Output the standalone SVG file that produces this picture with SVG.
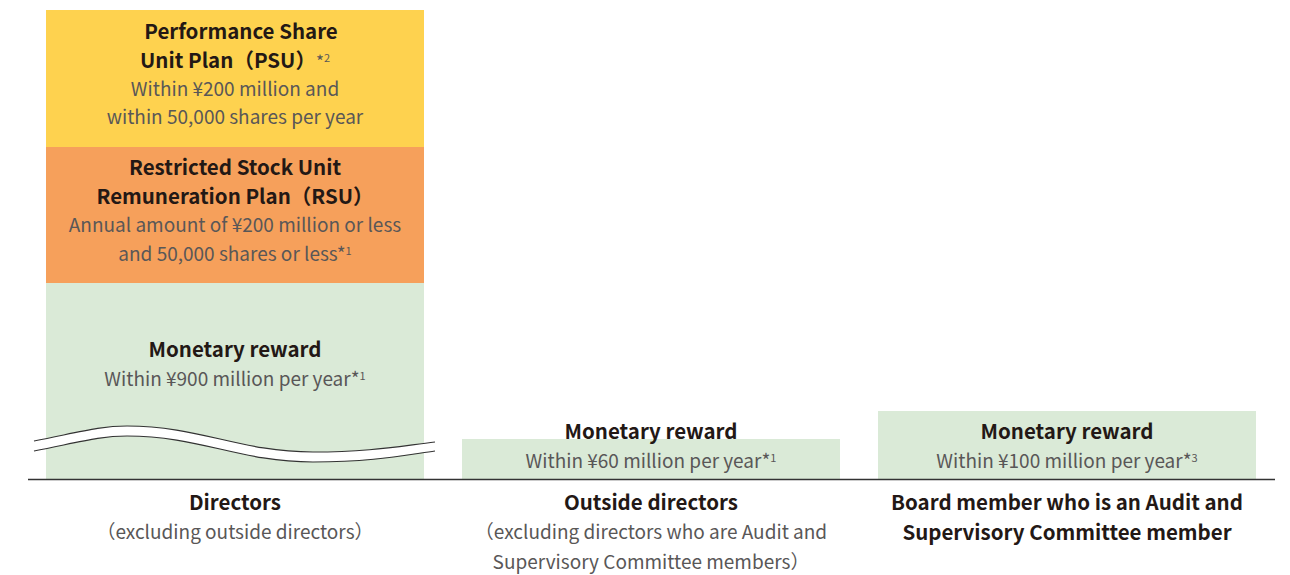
<svg xmlns="http://www.w3.org/2000/svg" width="1290" height="575" viewBox="0 0 1290 575">
<style>
text{font-family:"Noto Sans CJK JP","Noto Sans",sans-serif;text-anchor:middle}
.b{font-size:20.5px;font-weight:700;fill:#231815}
.n{font-size:19px;font-weight:400;fill:#595757}
.s{font-size:11px}
.g{fill:#DAEAD7}
.w{fill:none;stroke:#333;stroke-width:1.2}
</style>
<rect width="1290" height="575" fill="#fff"/>
<g id="directors">
<rect x="46" y="10" width="378" height="137" fill="#FED24F"/>
<rect x="46" y="147" width="378" height="136" fill="#F6A05B"/>
<rect class="g" x="46" y="283" width="378" height="196"/>
<path d="M34,441 C80,432 100,426 127,426 C200,426 240,452 313,452 C370,452 400,446 435,442 L435,451 C400,455 370,462 313,462 C240,462 200,436 127,436 C100,436 80,442 34,451 Z" fill="#fff"/>
<path class="w" d="M34,441 C80,432 100,426 127,426 C200,426 240,452 313,452 C370,452 400,446 435,442"/>
<path class="w" d="M34,451 C80,442 100,436 127,436 C200,436 240,462 313,462 C370,462 400,456 435,451"/>
<text class="b" x="241" y="39">Performance Share</text>
<text class="b" x="235" y="68">Unit Plan（PSU）<tspan class="n" style="font-size:17px">*</tspan><tspan class="n s" dy="-6">2</tspan></text>
<text class="n" x="235" y="96">Within ¥200 million and</text>
<text class="n" x="235" y="124">within 50,000 shares per year</text>
<text class="b" x="235" y="175">Restricted Stock Unit</text>
<text class="b" x="235" y="204">Remuneration Plan（RSU）</text>
<text class="n" x="235" y="232">Annual amount of ¥200 million or less</text>
<text class="n" x="235" y="261">and 50,000 shares or less*<tspan class="s" dy="-6">1</tspan></text>
<text class="b" x="235" y="357">Monetary reward</text>
<text class="n" x="235" y="386">Within ¥900 million per year*<tspan class="s" dy="-6">1</tspan></text>
<text class="b" x="235" y="510">Directors</text>
<text class="n" x="235" y="539">（excluding outside directors）</text>
</g>
<g id="outside">
<rect class="g" x="462" y="439" width="378" height="40"/>
<text class="b" x="651" y="439">Monetary reward</text>
<text class="n" x="651" y="468">Within ¥60 million per year*<tspan class="s" dy="-6">1</tspan></text>
<text class="b" x="651" y="510">Outside directors</text>
<text class="n" x="651" y="539">（excluding directors who are Audit and</text>
<text class="n" x="651" y="569">Supervisory Committee members）</text>
</g>
<g id="audit">
<rect class="g" x="878" y="411" width="378" height="68"/>
<text class="b" x="1067" y="439">Monetary reward</text>
<text class="n" x="1067" y="468">Within ¥100 million per year*<tspan class="s" dy="-6">3</tspan></text>
<text class="b" x="1067" y="510">Board member who is an Audit and</text>
<text class="b" x="1067" y="540">Supervisory Committee member</text>
</g>
<g id="connectors">
<line x1="28" y1="479.5" x2="1275" y2="479.5" stroke="#333" stroke-width="1.3"/>
</g>
</svg>
